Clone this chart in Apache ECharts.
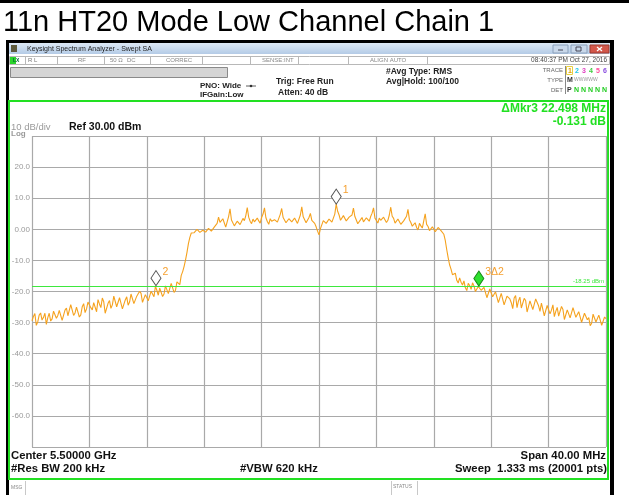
<!DOCTYPE html>
<html>
<head>
<meta charset="utf-8">
<script src="https://cdn.jsdelivr.net/npm/echarts@6/dist/echarts.min.js"></script>
<style>
html,body{margin:0;padding:0;background:#fff}
#c{width:629px;height:495px}
</style>
</head>
<body>
<div id="c"></div>
<script>
// Swept spectrum, 5.48 – 5.52 GHz, offsets from centre in MHz
const startMHz = -20;
const stepMHz = 0.1;
const traceDbm = [
  -29.4,-28.0,-27.1,-30.9,-29.8,-27.6,-26.9,-29.2,-28.3,-27.0,-30.6,-28.4,-27.0,-29.5,-28.8,-26.3,-25.9,-28.6,-27.7,-26.1,
  -26.2,-29.3,-28.9,-26.0,-25.3,-27.8,-27.4,-24.2,-24.8,-27.7,-26.9,-25.0,-24.6,-28.2,-27.5,-24.9,-23.9,-26.8,-25.6,-23.4,
  -22.8,-25.2,-25.9,-23.6,-24.1,-26.5,-22.6,-24.0,-25.2,-22.1,-23.3,-27.0,-26.7,-23.8,-22.9,-25.4,-24.3,-21.5,-21.8,-24.9,
  -24.6,-22.0,-22.4,-25.6,-25.1,-22.7,-21.7,-24.4,-23.4,-20.8,-20.9,-23.9,-24.2,-21.5,-22.0,-19.9,-20.6,-23.5,-23.1,-21.0,
  -20.4,-23.0,-22.5,-19.9,-19.8,-21.7,-18.3,-19.6,-21.2,-18.9,-19.4,-21.6,-20.8,-18.2,-18.6,-20.7,-20.1,-17.4,-17.9,-20.3,
  -19.6,-16.9,-17.2,-17.8,-14.8,-13.6,-11.9,-9.8,-7.4,-4.6,-2.6,-1.2,-0.6,-1.1,-0.9,0.0,-0.2,-1.0,-0.8,-0.3,
  0.1,-0.9,-0.4,0.3,0.5,-0.6,-0.1,0.7,0.8,1.9,3.9,2.2,1.6,3.4,2.9,0.7,1.2,4.1,6.6,3.0,
  2.4,1.1,0.9,2.6,3.1,1.5,1.7,3.5,2.8,4.4,7.0,3.9,2.6,1.8,3.3,2.4,1.9,3.6,2.7,2.0,
  3.8,4.9,6.9,3.7,2.5,1.6,3.4,2.6,2.1,3.1,3.6,2.3,2.8,4.8,6.7,3.8,3.2,2.1,2.4,3.4,
  3.9,2.4,2.7,3.6,3.3,1.9,2.2,4.6,7.2,4.0,3.5,2.1,2.6,3.8,5.1,2.9,3.0,1.9,0.8,-0.6,
  -1.8,0.2,1.5,2.8,3.2,1.9,2.4,3.3,3.9,2.3,2.7,4.9,8.1,5.8,4.6,2.9,3.1,4.4,4.0,2.7,
  2.6,3.9,3.5,4.6,6.8,4.1,3.0,1.8,2.2,3.1,3.8,2.4,2.5,3.7,3.3,2.6,4.1,5.2,6.9,3.6,
  2.8,2.0,3.6,2.9,2.3,3.9,3.4,2.2,2.9,4.6,7.1,4.2,3.5,2.0,2.4,3.3,3.1,1.6,1.8,2.7,
  2.9,4.2,6.4,3.1,2.2,1.0,1.4,2.1,0.6,-0.2,1.9,1.1,0.4,2.7,5.0,1.6,0.9,-0.4,-0.3,0.8,
  0.7,-0.8,-0.5,0.6,0.2,-0.4,-0.9,-1.6,-3.6,-6.5,-9.1,-11.4,-12.8,-14.6,-15.2,-14.1,-16.4,-17.3,-15.6,-17.0,
  -17.9,-16.6,-18.8,-19.7,-17.4,-18.1,-19.3,-17.2,-18.2,-20.0,-19.5,-18.4,-18.0,-19.6,-20.1,-18.7,-19.0,-22.0,-21.4,-19.2,
  -19.8,-21.7,-22.3,-20.1,-20.4,-23.6,-23.1,-20.6,-21.2,-24.3,-24.0,-21.5,-20.9,-22.4,-23.6,-25.5,-22.1,-21.3,-25.2,-23.0,
  -21.8,-25.3,-24.7,-22.2,-22.9,-26.6,-26.1,-23.0,-23.4,-25.8,-25.5,-22.4,-22.8,-24.6,-26.4,-23.7,-24.2,-27.8,-27.3,-24.5,
  -24.9,-27.2,-26.0,-24.3,-28.1,-26.4,-25.1,-27.9,-27.6,-24.8,-25.8,-29.0,-28.7,-25.9,-26.2,-28.5,-27.9,-25.2,-25.6,-28.3,
  -28.9,-26.5,-26.8,-29.9,-29.4,-27.0,-27.1,-29.1,-28.4,-31.0,-30.2,-27.3,-27.5,-29.8,-29.6,-27.6,-28.0,-30.9,-30.4,-28.2,
  -28.7
];

// Markers: 1 (peak), 2 (reference), 3 (delta against 2)
const markerNames = ['1', '2', '3\u03942'];
const markerFreqMHz = [1.2, -11.36, 11.138];
const markerDbm = [8.1, -18.119, -18.25];

const displayLineDbm = -18.25;
const yTickLabels = {20:'20.0', 10:'10.0', 0:'0.00', '-10':'-10.0', '-20':'-20.0', '-30':'-30.0', '-40':'-40.0', '-50':'-50.0', '-60':'-60.0'};

const FF = '"Liberation Sans", Arial, sans-serif';
const traceColor = '#f5a21e';
const green = '#22e022';

const tracePoints = traceDbm.map((v, i) => [startMHz + i * stepMHz, v]);

const deltaFreq = (markerFreqMHz[2] - markerFreqMHz[1]).toFixed(3);
const deltaDb = (markerDbm[2] - markerDbm[1]).toFixed(3);

// --- instrument window chrome ---
const T = (x, y, text, font, fill, align, va) => ({
  type: 'text', x: x, y: y, silent: true,
  style: { text: text, font: font, fill: fill, align: align || 'left', verticalAlign: va || 'middle' }
});
const R = (x, y, w, h, fill, stroke, lw) => ({
  type: 'rect', silent: true, shape: { x: x, y: y, width: w, height: h },
  style: { fill: fill || 'none', stroke: stroke || null, lineWidth: lw || 1 }
});
const L = (x1, y1, x2, y2, stroke, lw) => ({
  type: 'line', silent: true, shape: { x1: x1, y1: y1, x2: x2, y2: y2 },
  style: { stroke: stroke, lineWidth: lw || 1 }
});

const chrome = [];
chrome.push(R(0, 0, 629, 3, '#000'));
chrome.push(T(3, 23, '11n HT20 Mode Low Channel Chain 1', '29px ' + FF, '#000'));
chrome.push(R(6, 40, 608, 455, '#000'));
chrome.push(R(9, 43, 601, 452, '#fff'));
// title bar
chrome.push({
  type: 'rect', silent: true, shape: { x: 9, y: 43, width: 601, height: 11 },
  style: { fill: { type: 'linear', x: 0, y: 0, x2: 0, y2: 1, colorStops: [{ offset: 0, color: '#dde9f6' }, { offset: 1, color: '#b4cbe6' }] } }
});
chrome.push(R(11, 45, 6, 7, '#5d5a3c'));
chrome.push(T(27, 49, 'Keysight Spectrum Analyzer - Swept SA', '7px ' + FF, '#222'));
chrome.push(R(553, 45, 15, 8, '#c9d8ea', '#8aa0bb'));
chrome.push(L(558, 50, 563, 50, '#445', 1));
chrome.push(R(571, 45, 16, 8, '#c9d8ea', '#8aa0bb'));
chrome.push(R(576, 47, 5, 4, 'none', '#445'));
chrome.push(R(590, 45, 19, 8, '#d2574a', '#9a3a30'));
chrome.push(L(597, 47, 602, 51, '#fff', 1.2));
chrome.push(L(602, 47, 597, 51, '#fff', 1.2));
// status row
chrome.push(R(9.5, 56.5, 600, 8, '#fff', '#b8b8b8'));
chrome.push(R(10, 57, 6, 7, '#2ad42a'));
chrome.push(T(13, 60.5, 'LX', 'bold 5px ' + FF, '#063'));
[25, 57, 104, 150, 202, 250, 298, 348, 427].forEach(x => chrome.push(L(x + 0.5, 57, x + 0.5, 64, '#b8b8b8')));
const sf = '6px ' + FF;
chrome.push(T(28, 60.5, 'R L', sf, '#777'));
chrome.push(T(78, 60.5, 'RF', sf, '#888'));
chrome.push(T(110, 60.5, '50 \u03a9', sf, '#888'));
chrome.push(T(127, 60.5, 'DC', sf, '#888'));
chrome.push(T(166, 60.5, 'CORREC', sf, '#888'));
chrome.push(T(262, 60.5, 'SENSE:INT', sf, '#888'));
chrome.push(T(370, 60.5, 'ALIGN AUTO', sf, '#888'));
chrome.push(T(607, 60.5, '08:40:37 PM Oct 27, 2016', '6.5px ' + FF, '#444', 'right'));
// settings panel
chrome.push(R(10.5, 67.5, 217, 10, '#d5d5d5', '#8a8a8a'));
const bf = 'bold 8px ' + FF;
chrome.push(T(200, 86, 'PNO: Wide', bf, '#222'));
chrome.push(T(200, 95, 'IFGain:Low', bf, '#222'));
chrome.push(L(246, 86, 256, 86, '#333', 0.8));
chrome.push({ type: 'circle', silent: true, shape: { cx: 251, cy: 86, r: 1.3 }, style: { fill: '#333' } });
chrome.push(T(276, 82, 'Trig: Free Run', 'bold 8.5px ' + FF, '#222'));
chrome.push(T(278, 93, 'Atten: 40 dB', 'bold 8.5px ' + FF, '#222'));
chrome.push(T(386, 72, '#Avg Type: RMS', 'bold 8.5px ' + FF, '#222'));
chrome.push(T(386, 82, 'Avg|Hold: 100/100', 'bold 8.5px ' + FF, '#222'));
const tf = '6px ' + FF;
chrome.push(T(563, 70, 'TRACE', tf, '#666', 'right'));
chrome.push(T(563, 80, 'TYPE', tf, '#666', 'right'));
chrome.push(T(563, 90, 'DET', tf, '#666', 'right'));
chrome.push(L(565.5, 66, 565.5, 94, '#888'));
chrome.push(R(566.5, 66.5, 6, 8, 'none', '#e8d040'));
const traceNumColors = ['#e0a000', '#20c4e8', '#e040c0', '#40cc40', '#ff4a9a', '#8a4ee0'];
traceNumColors.forEach((c, i) => chrome.push(T(568 + i * 7, 71, String(i + 1), 'bold 7px ' + FF, c)));
chrome.push(T(567, 80, 'M', 'bold 7px ' + FF, '#333'));
chrome.push(T(574, 80, 'WWWWW', '5px ' + FF, '#999'));
chrome.push(T(567, 90, 'P', 'bold 7px ' + FF, '#333'));
chrome.push(T(574, 90, 'N N N N N', 'bold 7px ' + FF, '#22cc22'));
// measurement frame
chrome.push(R(9, 101, 599, 378, 'none', green, 2));
chrome.push(T(11, 127, '10 dB/div', '9.5px ' + FF, '#9a9a9a'));
chrome.push(T(11, 134, 'Log', 'bold 8px ' + FF, '#9a9a9a'));
chrome.push(T(69, 127, 'Ref 30.00 dBm', 'bold 10.5px ' + FF, '#111'));
chrome.push(T(606, 109, '\u0394Mkr3 ' + deltaFreq + ' MHz', 'bold 12px ' + FF, green, 'right'));
chrome.push(T(606, 122, deltaDb + ' dB', 'bold 12px ' + FF, green, 'right'));
const lf = 'bold 11.3px ' + FF;
chrome.push(T(11, 456, 'Center 5.50000 GHz', lf, '#111'));
chrome.push(T(11, 469, '#Res BW 200 kHz', lf, '#111'));
chrome.push(T(240, 469, '#VBW 620 kHz', lf, '#111'));
chrome.push(T(606, 456, 'Span 40.00 MHz', lf, '#111', 'right'));
chrome.push(T(607, 469, 'Sweep  1.333 ms (20001 pts)', lf, '#111', 'right'));
// message / status strip
chrome.push(L(25.5, 481, 25.5, 495, '#c8c8c8'));
chrome.push(T(11, 488, 'MSG', '5px ' + FF, '#888'));
chrome.push(L(391.5, 481, 391.5, 495, '#c8c8c8'));
chrome.push(L(417.5, 481, 417.5, 495, '#c8c8c8'));
chrome.push(T(393, 487, 'STATUS', '5px ' + FF, '#888'));

const markData = markerNames.map((n, i) => ({
  name: n,
  coord: [markerFreqMHz[i], markerDbm[i]],
  symbol: 'diamond',
  symbolSize: [10, 15],
  symbolOffset: [0, -7.5],
  itemStyle: i === 2
    ? { color: '#2ee02e', borderColor: '#198a19', borderWidth: 1 }
    : { color: '#ffffff', borderColor: '#555555', borderWidth: 1 },
  label: {
    show: true, formatter: n, position: 'right', distance: 1,
    offset: [0, -6], color: '#f5a030', fontSize: 10.5, fontFamily: FF
  }
}));

const chart = echarts.init(document.getElementById('c'), null, { renderer: 'canvas' });
chart.setOption({
  animation: false,
  backgroundColor: '#fff',
  graphic: { elements: chrome },
  grid: { left: 32, right: 23, top: 136, bottom: 48, show: true, borderColor: '#8c8c8c', borderWidth: 1.5 },
  xAxis: {
    type: 'value', min: -20, max: 20, interval: 4,
    axisLine: { show: false }, axisTick: { show: false }, axisLabel: { show: false },
    splitLine: { show: true, lineStyle: { color: '#a9a9a9', width: 1.2 } }
  },
  yAxis: {
    type: 'value', min: -70, max: 30, interval: 10,
    axisLine: { show: false }, axisTick: { show: false },
    axisLabel: {
      margin: 2, color: '#9a9a9a', fontSize: 8, fontFamily: FF,
      showMinLabel: false, showMaxLabel: false,
      formatter: v => yTickLabels[v] || ''
    },
    splitLine: { show: true, lineStyle: { color: '#a9a9a9', width: 1.2 } }
  },
  series: [{
    type: 'line',
    data: tracePoints,
    showSymbol: false,
    lineStyle: { color: traceColor, width: 1.1 },
    z: 3,
    markLine: {
      silent: true, symbol: 'none',
      lineStyle: { color: '#3ee83e', width: 1, type: 'solid' },
      label: { show: true, position: 'insideEndTop', formatter: displayLineDbm.toFixed(2) + ' dBm', color: '#3ee83e', fontSize: 6, fontFamily: FF, distance: 2 },
      data: [{ yAxis: displayLineDbm }]
    },
    markPoint: { silent: true, data: markData }
  }]
});
</script>
</body>
</html>
